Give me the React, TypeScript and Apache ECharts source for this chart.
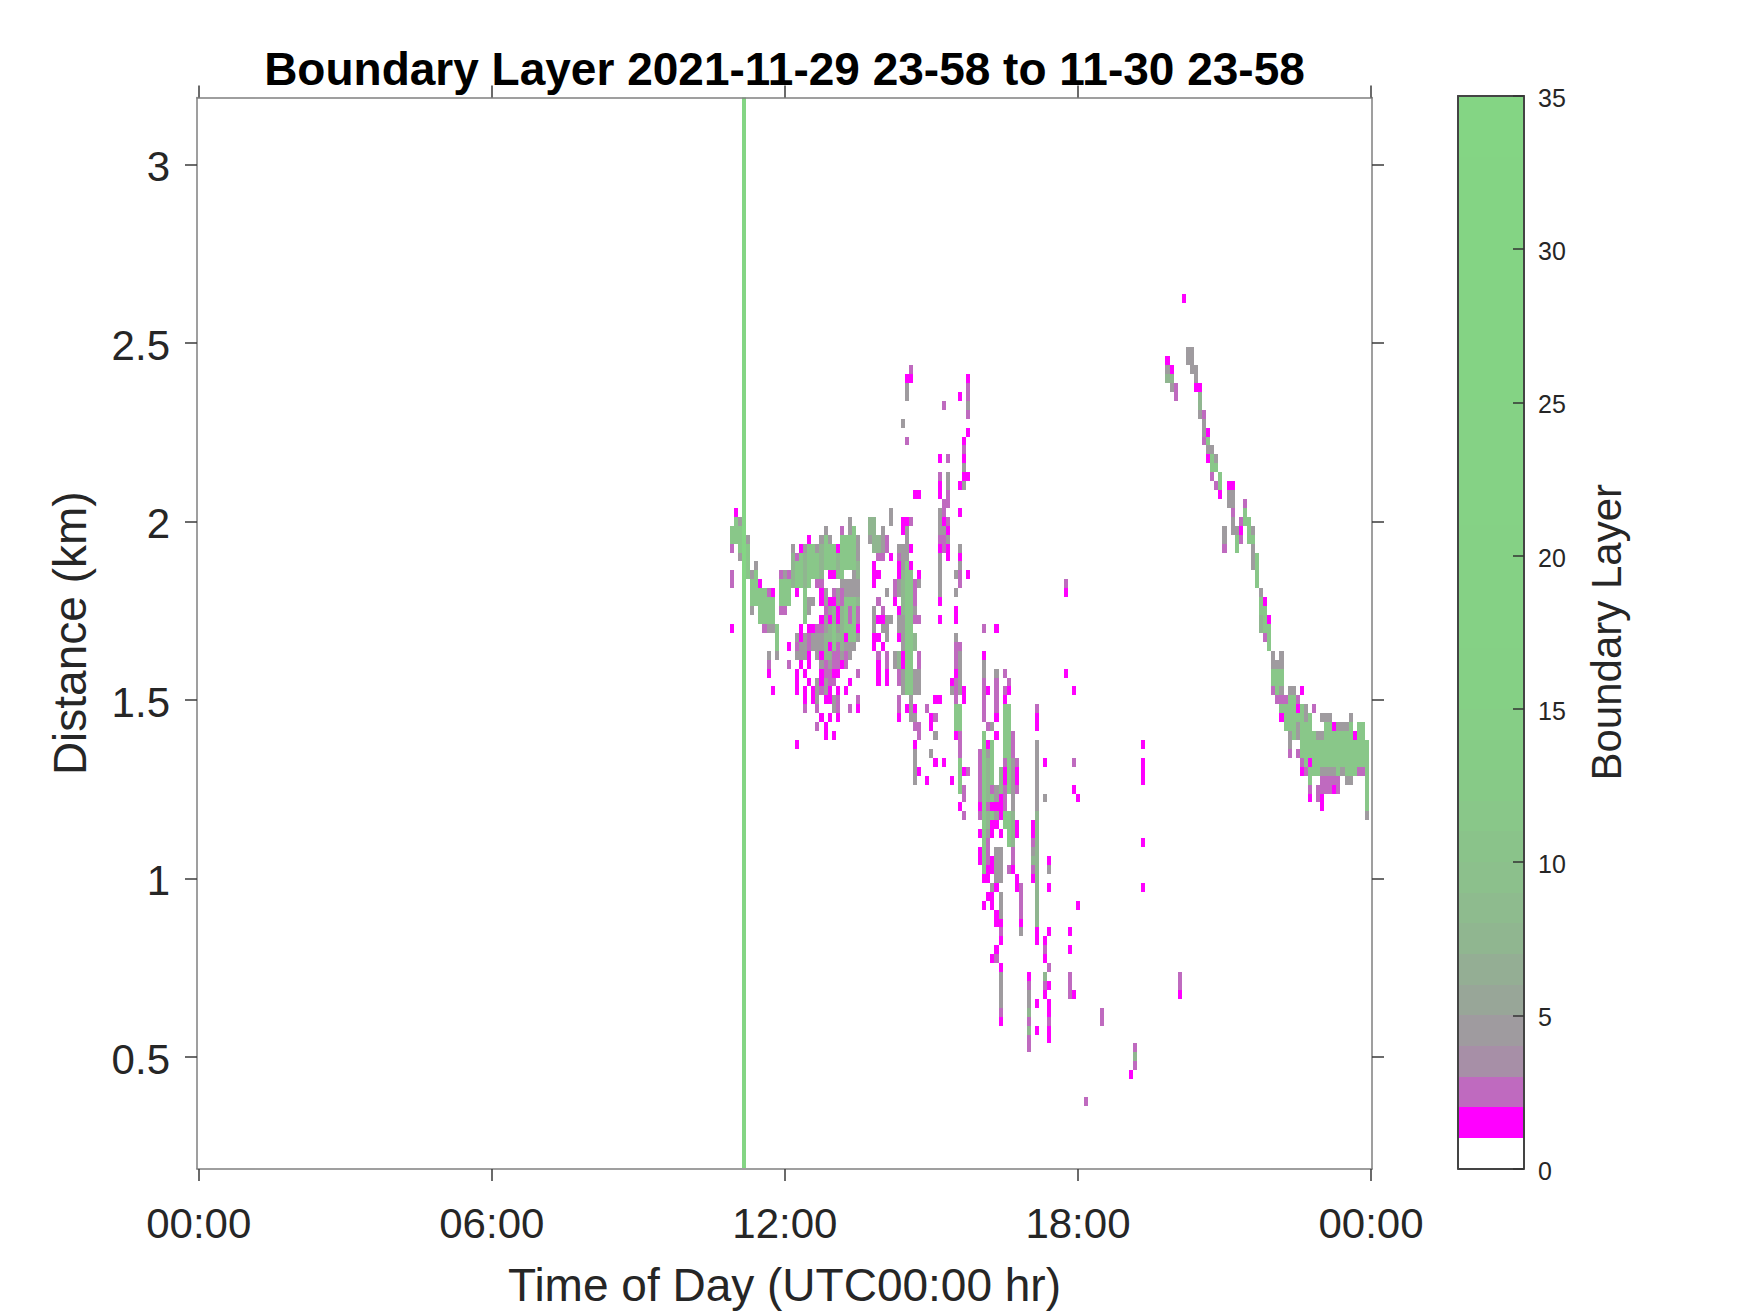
import React, { useEffect, useRef } from "react";
import * as echarts from "echarts";

const titleText = "Boundary Layer 2021-11-29 23-58 to 11-30 23-58";
const xName = "Time of Day (UTC00:00 hr)";
const yName = "Distance (km)";
const barName = "Boundary Layer";
const xTicks = [0, 6, 12, 18, 24];
const xTickLabels = ["00:00", "06:00", "12:00", "18:00", "00:00"];
const yTicks = [0.5, 1, 1.5, 2, 2.5, 3];
const barTicks = [0, 5, 10, 15, 20, 25, 30, 35];
const HOURS_PER_COL = 1 / 12;
const KM_PER_ROW = 0.025;

// colour levels (value, colour)
const colourStops: [number, string][] = [
  [1, "#ffffff"], [2, "#ff00ff"], [3, "#bf6abf"], [4, "#a78fa7"], [5, "#9f9b9f"],
  [6, "#98a698"], [7, "#94ae94"], [8, "#90b690"], [10, "#8cc08c"], [13, "#87ca87"],
  [16, "#85d085"], [35, "#84d584"],
];

// every run is [column (5 min), top row (25 m), bottom row]; bottom row omitted for one cell
type Run = number[];
const lineCells: Run[] = [[134, 127, 8]];
const grayCells: Run[] = [
  [131, 77], [133, 80], [133, 76], [135, 78], [136, 74], [136, 70], [137, 75], [139, 68], [140, 68], [141, 68],
  [142, 65], [144, 74], [140, 65],
  [146, 77], [149, 77], [152, 77], [153, 78], [154, 79, 78], [155, 78], [160, 80, 79], [162, 78, 76], [158, 79],
  [147, 67, 65], [148, 66, 65], [149, 67, 65], [150, 68, 66], [151, 67, 66], [152, 67, 65], [153, 69, 64],
  [154, 72, 62], [155, 70, 62], [156, 70, 62], [157, 72, 63], [158, 73, 64], [159, 73, 64], [160, 73, 65],
  [161, 74, 66], [162, 73, 67], [150, 71, 70], [151, 71], [152, 62, 60], [154, 61, 60], [156, 60, 59],
  [165, 78], [168, 79, 76], [169, 72], [169, 67], [170, 81, 80], [167, 71], [166, 70, 68], [168, 69, 68],
  [169, 69, 68], [170, 69], [171, 65, 64], [172, 73, 72], [172, 77, 76], [173, 77, 66], [173, 63, 61],
  [174, 79, 78], [174, 77, 76], [176, 63, 61], [177, 63, 61], [176, 70, 69], [177, 73], [172, 69, 68],
  [175, 60, 58], [176, 58, 57], [176, 54, 51], [181, 56], [180, 54], [174, 95, 94], [173, 91], [184, 85, 84],
  [182, 81, 79], [182, 76, 72], [184, 78], [187, 77], [187, 75], [186, 74], [186, 72], [186, 67], [187, 65, 61],
  [185, 61], [183, 79, 78], [195, 57], [194, 57], [193, 64, 62], [196, 63], [189, 93], [188, 86], [188, 84],
  [194, 54, 45], [200, 53, 48], [196, 50, 47], [196, 43, 40], [197, 43, 40], [197, 38, 36], [195, 39],
  [202, 34], [197, 29, 26], [204, 27, 26], [205, 43], [206, 55, 48], [209, 41], [208, 49],
  [243, 99, 98], [244, 99, 97], [245, 97, 96], [246, 92], [247, 91, 90], [248, 88], [249, 88], [250, 87],
  [253, 83, 82], [254, 83, 82], [254, 80, 79], [252, 79, 78], [255, 79], [259, 79], [259, 77, 75], [239, 95], [238, 97],
  [261, 72], [264, 65, 64], [265, 64], [266, 65, 64], [266, 61], [268, 61], [269, 61], [272, 59, 58], [275, 56],
  [276, 56], [276, 58], [277, 58], [278, 58], [280, 57], [281, 57], [282, 57], [283, 58], [282, 51], [283, 51],
  [281, 52], [276, 52], [277, 52], [278, 52], [279, 52], [268, 56, 55], [287, 47], [270, 57, 56],
];
const sageCells: Run[] = [
  [146, 76, 73], [149, 76, 73], [153, 77, 74], [157, 76, 74], [162, 75, 74],
  [165, 80, 79], [166, 80, 79], [167, 78, 77], [166, 78, 77],
  [206, 47, 35], [205, 42], [204, 25], [204, 23], [208, 29], [230, 20], [194, 53, 46],
  [261, 69, 68], [197, 52, 50], [200, 47, 44], [246, 94, 93], [238, 96], [239, 96], [254, 81],
  [155, 68, 65], [156, 70, 67], [157, 67, 65], [158, 70, 66], [154, 67, 65], [162, 71, 68], [155, 63], [158, 64],
  [173, 74, 70], [176, 67, 66], [172, 65, 64],
];
const greenCells: Run[] = [
  [131, 79, 78], [132, 80, 78], [133, 79, 77], [135, 77, 74], [136, 73, 71], [137, 74, 71], [138, 72, 69], [139, 72, 69],
  [140, 71, 69], [141, 71, 69], [142, 68, 66], [143, 73, 71], [144, 73, 71], [145, 73, 71],
  [147, 75, 73], [148, 76, 73], [149, 72, 69], [150, 77, 73], [151, 77, 74], [152, 76, 74], [154, 78, 75], [155, 77, 74],
  [156, 77, 74], [158, 78, 74], [159, 78, 75], [160, 78, 75], [161, 79, 75], [159, 71, 67], [160, 71, 67], [161, 71, 67],
  [156, 68, 66],
  [174, 75, 61], [175, 74, 61],
  [186, 59, 57], [187, 59, 57], [187, 53, 51], [193, 56, 41], [195, 55, 51], [195, 49, 47], [198, 59, 54], [199, 59, 50],
  [199, 47, 44], [198, 47, 46], [187, 53, 50],
  [198, 50, 47],
  [248, 89], [249, 87, 86], [250, 86], [251, 85, 84], [255, 78, 77], [257, 81], [257, 80], [258, 80, 78], [259, 78],
  [260, 76, 73], [261, 71, 70], [262, 70, 68], [263, 68, 66], [264, 63, 62], [265, 63, 61], [266, 63, 62],
  [266, 59], [267, 59, 57], [268, 60, 57], [269, 60, 56], [270, 58], [271, 59, 54], [272, 57, 53], [273, 58, 51],
  [274, 56, 52], [275, 55, 52], [276, 55, 53], [277, 57, 53], [278, 57, 53], [279, 56, 53], [280, 56, 52], [281, 56, 53],
  [282, 56, 52], [283, 57, 52], [284, 55, 52], [285, 57, 53], [286, 57, 53], [287, 55, 48],
];
const purpleCells: Run[] = [
  [131, 74, 73], [140, 72], [143, 74], [143, 70], [144, 70], [145, 74], [145, 64], [140, 64], [139, 68], [131, 77],
  [147, 76], [152, 73], [153, 73], [152, 68], [153, 68], [152, 59], [152, 57], [149, 59], [154, 70], [156, 72],
  [158, 79], [160, 59], [162, 63], [162, 60], [157, 60, 59], [155, 63, 62], [150, 67, 66], [147, 66], [157, 66, 64],
  [153, 61], [156, 62],
  [167, 71], [168, 70], [167, 65], [169, 65], [169, 78, 77], [168, 76], [167, 76],
  [173, 80], [175, 80], [175, 97], [174, 89], [183, 93], [189, 95, 94], [189, 92], [188, 88], [184, 87], [182, 85],
  [184, 83], [183, 82], [184, 82], [183, 81], [184, 80], [182, 78], [183, 78], [183, 77], [176, 73, 71], [171, 73, 72],
  [176, 69], [177, 69], [169, 65, 64], [177, 65, 64], [172, 63, 62], [172, 76], [172, 60, 59], [179, 59], [181, 58],
  [177, 57, 56], [176, 57], [187, 74, 73], [187, 66], [186, 66], [186, 65, 63], [186, 62, 60], [187, 56, 54], [189, 52],
  [193, 68], [193, 62, 60], [193, 59, 58], [194, 57], [196, 62, 60], [196, 59], [198, 63], [199, 62], [198, 61],
  [200, 56, 54], [201, 53], [201, 50], [192, 54, 49], [192, 47], [195, 50], [194, 48], [194, 44, 42], [198, 53],
  [198, 50, 48], [200, 43, 42], [199, 41], [188, 50, 49], [188, 47], [196, 59],
  [202, 39, 36], [197, 34], [197, 25], [206, 59], [205, 44], [205, 41], [204, 28], [204, 24], [204, 22, 21],
  [208, 32], [208, 28], [209, 30], [209, 24], [196, 31], [213, 73], [215, 53], [214, 29, 27], [222, 25, 24],
  [241, 29, 28], [230, 21], [230, 19], [218, 15],
  [240, 95, 94], [247, 92], [247, 89], [249, 85], [250, 84], [254, 81], [252, 77], [256, 80], [256, 78], [257, 82],
  [262, 67], [264, 61], [265, 60], [266, 60], [267, 60], [270, 60], [274, 59], [268, 54], [270, 54], [271, 53], [272, 52],
  [285, 52], [286, 52], [273, 50], [275, 50], [276, 51], [277, 51], [278, 51], [279, 51], [280, 51], [276, 50], [277, 50],
  [278, 50], [280, 50], [275, 49],
  [159, 65, 64], [156, 65, 64], [158, 72, 71], [160, 70, 69], [154, 64, 63], [162, 70, 69],
];
const magentaCells: Run[] = [
  [131, 68], [132, 81], [138, 73], [141, 72], [141, 61], [140, 63], [145, 66], [147, 72], [147, 63, 61], [147, 55],
  [148, 77], [148, 68, 67], [148, 64], [149, 63], [149, 61, 60], [150, 78], [150, 68], [150, 65, 64], [150, 62], [151, 68],
  [151, 61, 60], [153, 72, 71], [153, 69], [153, 65], [153, 63, 62], [153, 58], [154, 60], [154, 57, 56], [155, 74], [156, 74],
  [155, 71], [155, 69], [155, 66], [155, 60], [155, 61], [155, 58], [156, 71], [157, 77], [157, 70, 69], [157, 61], [157, 58],
  [156, 63], [157, 63], [156, 56], [158, 64], [159, 67], [159, 61], [160, 62], [162, 68], [162, 59],
  [170, 76], [166, 75], [166, 74], [167, 74], [166, 73], [171, 71], [172, 70], [167, 69], [168, 69], [166, 67], [167, 67],
  [166, 66], [168, 66], [167, 64, 62], [169, 63, 62], [174, 80], [173, 79], [175, 77], [175, 75], [172, 75, 74], [177, 74],
  [172, 67], [173, 65, 64], [174, 59], [176, 59], [172, 58], [180, 58, 57], [181, 60], [182, 60], [181, 53], [183, 53],
  [179, 51], [185, 51], [176, 55], [177, 52], [177, 83], [174, 96], [175, 96], [187, 94], [189, 96], [189, 90], [188, 89],
  [188, 87], [188, 85], [189, 85], [187, 84], [182, 87], [182, 84, 83], [176, 83], [187, 81], [183, 80], [184, 79], [182, 77],
  [184, 77, 76], [182, 71], [182, 69], [187, 76], [189, 74], [186, 70, 69], [171, 71], [168, 66], [173, 80], [186, 63], [185, 62],
  [188, 61, 60], [186, 56], [188, 52], [193, 65], [196, 68], [194, 61], [198, 60], [199, 61], [196, 58], [196, 56], [194, 55],
  [192, 48], [192, 45], [192, 43, 42], [195, 48], [196, 48], [197, 49, 47], [195, 46, 45], [196, 46], [197, 45], [194, 41, 40],
  [195, 42, 41], [193, 40], [200, 41], [198, 52, 51], [201, 52, 51], [201, 46, 45], [187, 48], [196, 39], [194, 38], [195, 38],
  [193, 37], [195, 37], [196, 36], [196, 35], [197, 35], [197, 33], [196, 32], [195, 31], [197, 30], [197, 24], [201, 40, 39],
  [202, 35], [206, 58, 57], [205, 46, 45], [205, 40], [206, 34, 33], [204, 29], [206, 26], [206, 23],
  [208, 53], [209, 42], [209, 39], [209, 34], [208, 33], [208, 31], [209, 28], [208, 27], [209, 26, 25], [209, 23, 22],
  [213, 72], [213, 63], [215, 61], [215, 50], [216, 49], [216, 37], [214, 34], [214, 32], [215, 27], [232, 55], [232, 53, 51],
  [232, 44], [232, 39], [241, 27], [229, 18],
  [242, 105], [238, 98], [239, 97], [245, 95], [246, 95], [248, 90], [248, 87], [251, 83], [253, 84], [254, 84], [256, 79],
  [262, 71], [263, 69], [266, 58], [270, 59], [271, 61], [273, 53], [271, 52], [279, 57], [284, 56], [273, 49], [276, 49, 48],
  [279, 50],
];
const barLevels = [
  0, 1, 2, 3, 4, 5, 6, 7, 8, 9, 10, 11, 12, 13, 14, 15, 16, 17, 18, 19, 20, 21, 22, 23, 24, 25, 26, 27, 28, 29, 30, 31, 32, 33, 34,
];

const hex = (c: string) => [1, 3, 5].map((i) => parseInt(c.slice(i, i + 2), 16));
function colourFor(level: number): string {
  if (level >= 35) return colourStops[colourStops.length - 1][1];
  const upper = level + 1;
  for (let k = 0; k < colourStops.length; k++) {
    const [v, c] = colourStops[k];
    if (v === upper) return c;
    if (v > upper) {
      const [pv, pc] = colourStops[k - 1];
      const f = (upper - pv) / (v - pv);
      const a = hex(pc);
      const b = hex(c);
      return `rgb(${a.map((x, n) => Math.round(x + (b[n] - x) * f)).join(",")})`;
    }
  }
  return colourStops[colourStops.length - 1][1];
}

const layers: [Run[], number][] = [
  [grayCells, 4],
  [sageCells, 7],
  [greenCells, 11],
  [lineCells, 34],
  [purpleCells, 2],
  [magentaCells, 1],
];

const font = "Liberation Sans, Arial, sans-serif";
const textColor = "#262626";
const axisGray = "#7f7f7f";
const tickDark = "#3a3a3a";

export default function App() {
  const ref = useRef<HTMLDivElement>(null);
  useEffect(() => {
    document.body.style.margin = "0";
    const chart = echarts.init(ref.current!, null, { renderer: "svg" });
    const cellData: number[][] = [];
    layers.forEach(([runs, level]) =>
      runs.forEach((r) => cellData.push([r[0], r[1], r[2] ?? r[1], level]))
    );
    const plainAxis = {
      axisLine: { show: true, onZero: false, lineStyle: { color: axisGray, width: 1.5 } },
      splitLine: { show: false },
      z: 5,
    };
    const mainX = (position: string, labels: boolean) => ({
      ...plainAxis,
      type: "value",
      gridIndex: 0,
      position,
      min: -0.035,
      max: 24.02,
      axisTick: {
        show: true,
        length: 12,
        customValues: xTicks,
        lineStyle: { color: tickDark, width: 1.5 },
      },
      axisLabel: {
        show: labels,
        customValues: xTicks,
        formatter: (v: number) => xTickLabels[xTicks.indexOf(v)] ?? "",
        fontFamily: font,
        fontSize: 42,
        color: textColor,
        margin: 33,
      },
    });
    const mainY = (position: string, labels: boolean) => ({
      ...plainAxis,
      type: "value",
      gridIndex: 0,
      position,
      min: 0.186,
      max: 3.187,
      axisTick: {
        show: true,
        length: 12,
        customValues: yTicks,
        lineStyle: { color: tickDark, width: 1.5 },
      },
      axisLabel: {
        show: labels,
        customValues: yTicks,
        formatter: (v: number) => `{a|${v}}`,
        rich: { a: { fontFamily: font, fontSize: 42, color: textColor, padding: [5, 0, 0, 0] } },
        margin: 27,
      },
    });
    const barEdge = { lineStyle: { color: "#444", width: 2 } };
    chart.setOption({
      animation: false,
      backgroundColor: "#ffffff",
      title: {
        text: titleText,
        left: 779.5,
        top: 41,
        textAlign: "center",
        textStyle: { fontFamily: font, fontSize: 46, fontWeight: "bold", color: "#000" },
      },
      grid: [
        { left: 197, top: 97.5, width: 1175, height: 1072 },
        { left: 1458, top: 96, width: 66, height: 1072.5 },
      ],
      xAxis: [
        {
          ...mainX("bottom", true),
          name: xName,
          nameLocation: "middle",
          nameGap: 93,
          nameTextStyle: { fontFamily: font, fontSize: 46, color: textColor },
        },
        mainX("top", false),
        {
          type: "value", gridIndex: 1, position: "bottom", min: 0, max: 1, z: 5,
          axisLine: { show: true, onZero: false, ...barEdge },
          axisTick: { show: false }, axisLabel: { show: false }, splitLine: { show: false },
        },
        {
          type: "value", gridIndex: 1, position: "top", min: 0, max: 1, z: 5,
          axisLine: { show: true, onZero: false, ...barEdge },
          axisTick: { show: false }, axisLabel: { show: false }, splitLine: { show: false },
        },
      ],
      yAxis: [
        {
          ...mainY("left", true),
          name: yName,
          nameLocation: "middle",
          nameRotate: 90,
          nameGap: 104,
          nameTextStyle: { fontFamily: font, fontSize: 46, color: textColor },
        },
        mainY("right", false),
        {
          type: "value", gridIndex: 1, position: "right", min: 0, max: 35, z: 5,
          axisLine: { show: true, onZero: false, ...barEdge },
          axisTick: {
            show: true, inside: true, length: 11, customValues: barTicks,
            lineStyle: { color: "#333", width: 1.5 },
          },
          axisLabel: {
            customValues: barTicks,
            formatter: (v: number) => `{a|${v}}`,
            rich: { a: { fontFamily: font, fontSize: 25, color: textColor, padding: [4, 0, 0, 0] } },
            margin: 14,
          },
          splitLine: { show: false },
          name: barName,
          nameLocation: "middle",
          nameRotate: 90,
          nameGap: 61,
          nameTextStyle: { fontFamily: font, fontSize: 42, color: textColor },
        },
        {
          type: "value", gridIndex: 1, position: "left", min: 0, max: 35, z: 5,
          axisLine: { show: true, onZero: false, ...barEdge },
          axisTick: { show: false }, axisLabel: { show: false }, splitLine: { show: false },
        },
      ],
      series: [
        {
          type: "custom",
          xAxisIndex: 0,
          yAxisIndex: 0,
          z: 1,
          clip: true,
          silent: true,
          data: cellData,
          encode: { x: 0, y: 1 },
          renderItem: (_p: unknown, api: any) => {
            const col = api.value(0);
            const top = api.value(1);
            const bottom = api.value(2);
            const tl = api.coord([(col - 0.5) * HOURS_PER_COL, (top + 0.5) * KM_PER_ROW]);
            const br = api.coord([(col + 0.5) * HOURS_PER_COL, (bottom - 0.5) * KM_PER_ROW]);
            const x = Math.round(tl[0]);
            const y = Math.round(tl[1]);
            return {
              type: "rect",
              shape: { x, y, width: Math.round(br[0]) - x, height: Math.round(br[1]) - y },
              style: { fill: colourFor(api.value(3)) },
            };
          },
        },
        {
          type: "custom",
          xAxisIndex: 2,
          yAxisIndex: 2,
          z: 1,
          silent: true,
          data: barLevels.map((l) => [l]),
          encode: { y: 0 },
          renderItem: (_p: unknown, api: any) => {
            const level = api.value(0);
            const tl = api.coord([0, level + 1]);
            const br = api.coord([1, level]);
            const y = Math.round(tl[1]);
            return {
              type: "rect",
              shape: { x: tl[0], y, width: br[0] - tl[0], height: Math.round(br[1]) - y },
              style: { fill: colourFor(level) },
            };
          },
        },
      ],
    });
    return () => chart.dispose();
  }, []);
  return <div ref={ref} style={{ position: "absolute", left: 0, top: 0, width: 1750, height: 1313 }} />;
}
